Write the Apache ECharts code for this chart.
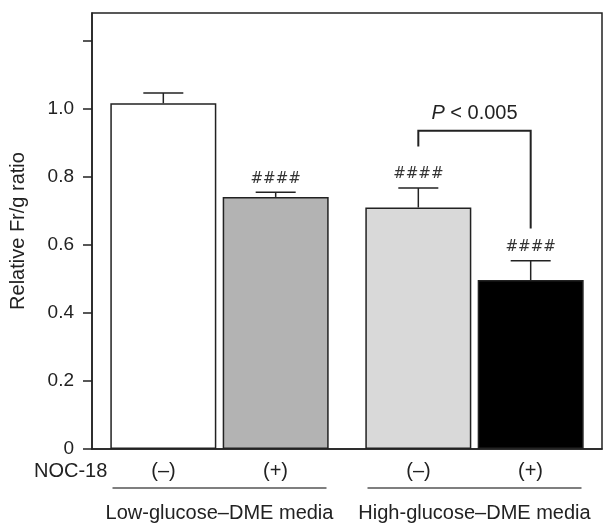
<!DOCTYPE html>
<html>
<head>
<meta charset="utf-8">
<script src="https://cdn.jsdelivr.net/npm/echarts@6/dist/echarts.min.js"></script>
<style>html,body{margin:0;background:#fff}#main{width:608px;height:523px}</style>
</head>
<body>
<div id="main"></div>
<script>
var categories = ['Low-glucose–DME media', 'High-glucose–DME media'];
var nocLabels = ['(–)', '(+)'];
var yTicks = [0, 0.2, 0.4, 0.6, 0.8, 1.0, 1.2];
var yLabels = [0, 0.2, 0.4, 0.6, 0.8, 1.0];
var meanMinus = [1.015, 0.709];
var semMinus = [0.030, 0.057];
var meanPlus = [0.740, 0.496];
var semPlus = [0.014, 0.057];
var sigMinus = ['', '####'];
var sigPlus = ['####', '####'];
// bracket over the high-glucose pair: [group, top, left end, right end]
var bracket = [1, 0.934, 0.888, 0.647];
var pText = '{i|P} < 0.005';

var colorsMinus = ['#ffffff', '#d9d9d9'];
var colorsPlus = ['#b3b3b3', '#000000'];

var FONT = '"Liberation Sans", Arial, sans-serif';
var INK = '#222';
var barWidth = 106;
var gapRatio = 0.06;
var barOffset = (barWidth + barWidth * gapRatio) / 2;
var capHalf = 20;

var chartDom = document.getElementById('main');
var myChart = echarts.init(chartDom);

function barSeries(name, values, colors) {
  return {
    name: name,
    type: 'bar',
    barWidth: barWidth,
    barGap: gapRatio * 100 + '%',
    data: values.map(function (v, i) {
      return { value: v, itemStyle: { color: colors[i] } };
    }),
    itemStyle: { borderColor: INK, borderWidth: 1.5 },
    z: 2
  };
}

function errorSeries(means, sems, sigs, side) {
  return {
    type: 'custom',
    z: 3,
    data: means.map(function (m, i) { return [i, m, sems[i]]; }),
    renderItem: function (params, api) {
      var i = api.value(0);
      var base = api.coord([i, api.value(1)]);
      var top = api.coord([i, api.value(1) + api.value(2)]);
      var x = base[0] + side * barOffset;
      var ls = { stroke: INK, lineWidth: 1.5 };
      return {
        type: 'group',
        children: [
          { type: 'line', shape: { x1: x, y1: base[1], x2: x, y2: top[1] }, style: ls },
          { type: 'line', shape: { x1: x - capHalf, y1: top[1], x2: x + capHalf, y2: top[1] }, style: ls },
          {
            type: 'text', x: x, y: top[1] - 6,
            style: { text: sigs[params.dataIndex], fill: '#333', fontSize: 15, fontFamily: '"DejaVu Sans", sans-serif', align: 'center', verticalAlign: 'bottom' }
          }
        ]
      };
    }
  };
}

var option = {
  animation: false,
  grid: { left: 92, right: 6, top: 13, bottom: 74, show: true, borderColor: INK, borderWidth: 1.5 },
  xAxis: {
    type: 'category',
    data: categories,
    axisLine: { lineStyle: { color: INK, width: 1.5 } },
    axisTick: { show: false },
    axisLabel: {
      interval: 0,
      margin: 11,
      color: '#222',
      fontFamily: FONT,
      fontSize: 20,
      formatter: function (v) {
        return '{n|' + nocLabels[0] + '}{n|' + nocLabels[1] + '}\n{u| }\n{g|' + v + '}';
      },
      rich: {
        n: { width: 112, align: 'center', fontSize: 20, lineHeight: 22, fontFamily: FONT, color: '#222' },
        u: { width: 214, height: 1.5, lineHeight: 12, fontSize: 2, backgroundColor: '#555' },
        g: { fontSize: 20, lineHeight: 38, fontFamily: FONT, color: '#222' }
      }
    }
  },
  yAxis: {
    type: 'value',
    min: 0,
    max: 1.28,
    interval: 0.2,
    name: 'Relative Fr/g ratio',
    nameLocation: 'middle',
    nameGap: 64,
    nameTextStyle: { fontSize: 20, fontFamily: FONT, color: '#222' },
    splitLine: { show: false },
    axisLine: { show: true, lineStyle: { color: INK, width: 1.5 } },
    axisTick: { show: true, length: 9, customValues: yTicks, lineStyle: { color: INK, width: 1.5 } },
    axisLabel: {
      margin: 18,
      fontSize: 19,
      fontFamily: FONT,
      color: '#222',
      customValues: yLabels,
      formatter: function (v) { return v === 0 ? '0' : v.toFixed(1); }
    }
  },
  graphic: [
    { type: 'text', left: 34, top: 461, style: { text: 'NOC-18', fontSize: 20, fontFamily: FONT, fill: '#222' } }
  ],
  series: [
    barSeries(nocLabels[0], meanMinus, colorsMinus),
    barSeries(nocLabels[1], meanPlus, colorsPlus),
    errorSeries(meanMinus, semMinus, sigMinus, -1),
    errorSeries(meanPlus, semPlus, sigPlus, 1),
    {
      type: 'custom',
      z: 3,
      data: [bracket],
      renderItem: function (params, api) {
        var g = api.value(0);
        var top = api.coord([g, api.value(1)]);
        var left = api.coord([g, api.value(2)]);
        var right = api.coord([g, api.value(3)]);
        var x1 = top[0] - barOffset;
        var x2 = top[0] + barOffset;
        return {
          type: 'group',
          children: [
            {
              type: 'polyline',
              shape: { points: [[x1, left[1]], [x1, top[1]], [x2, top[1]], [x2, right[1]]] },
              style: { stroke: INK, lineWidth: 2, fill: null }
            },
            {
              type: 'text', x: (x1 + x2) / 2, y: top[1] - 7,
              style: {
                text: pText, fill: '#222', fontSize: 20, fontFamily: FONT,
                align: 'center', verticalAlign: 'bottom',
                rich: { i: { fontStyle: 'italic', fontSize: 20, fontFamily: FONT, fill: '#222' } }
              }
            }
          ]
        };
      }
    }
  ]
};

option && myChart.setOption(option);
</script>
</body>
</html>
